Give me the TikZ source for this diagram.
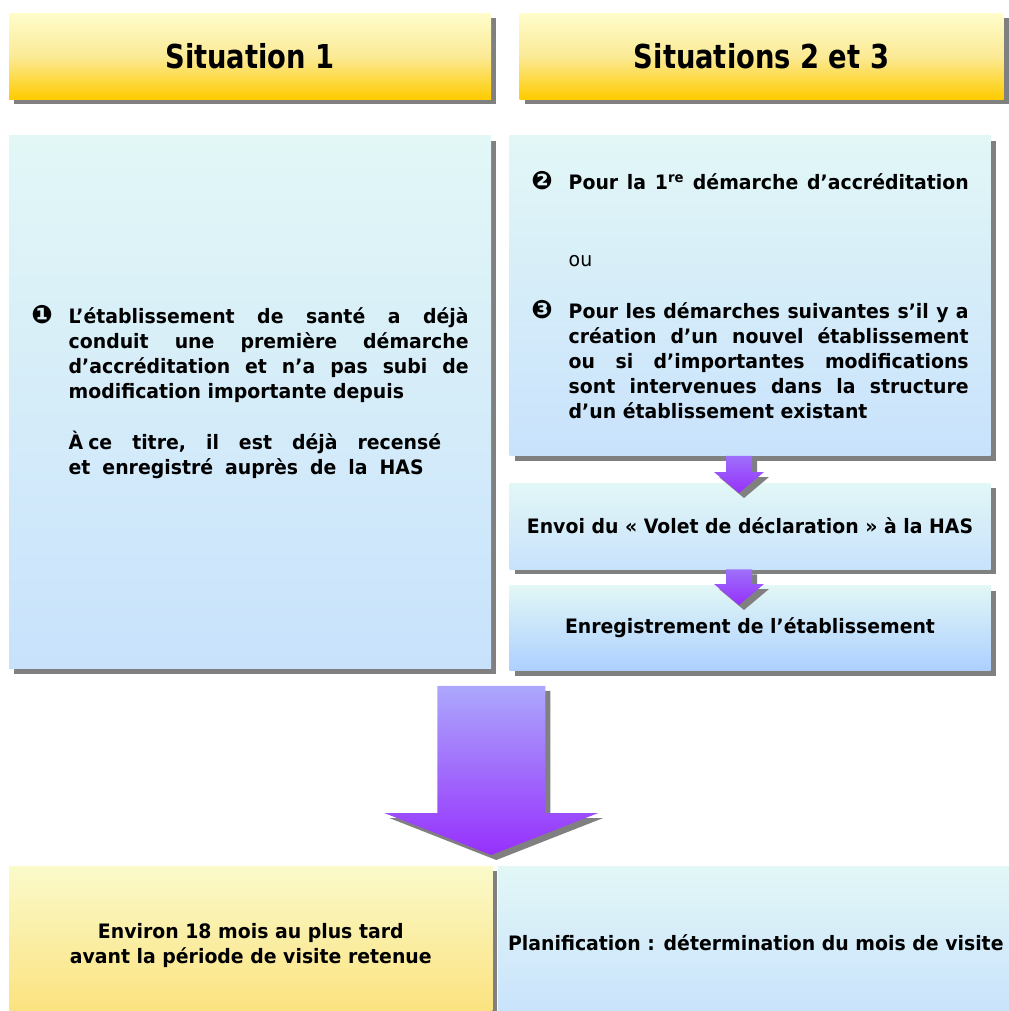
\documentclass[tikz,border=0pt]{standalone}
\usepackage{fontspec}
\setmainfont{DejaVu Sans}[FakeStretch=0.95]
\newfontfamily\headfont{DejaVu Sans}[FakeStretch=0.83]
\newfontfamily\dingfont{DejaVu Sans}
\usepackage{xcolor}
\usepackage{tikz}
\usetikzlibrary{positioning,calc,shadows}

\definecolor{headtop}{RGB}{255,253,204}
\definecolor{headmid}{RGB}{251,234,150}
\definecolor{headbot}{RGB}{255,204,0}
\definecolor{bluetop}{RGB}{226,247,246}
\definecolor{bluebot}{RGB}{200,226,252}
\definecolor{deepbot}{RGB}{172,207,255}
\definecolor{yeltop}{RGB}{250,250,202}
\definecolor{yelbot}{RGB}{251,224,120}
\definecolor{violtop}{RGB}{172,168,252}
\definecolor{violmid}{RGB}{158,112,250}
\definecolor{violbot}{RGB}{150,48,252}
\definecolor{ombre}{RGB}{128,128,128}

\hyphenpenalty=10000 \exhyphenpenalty=10000 \tolerance=10000
\setlength{\parindent}{0pt}

\newcommand{\puce}[1]{\hangindent=28pt\hangafter=1\makebox[28pt][l]{\dingfont\fontsize{19}{19}\selectfont #1}}
\newcommand{\retrait}{\hangindent=28pt\hangafter=0 }

\tikzset{
 ombree/.style={drop shadow={shadow xshift=3.75pt,shadow yshift=-3.75pt,fill=ombre,opacity=1}},
 entete/.style={ombree,top color=headtop,bottom color=headbot,middle color=headmid,
  minimum width=361.5pt,minimum height=64.5pt,inner sep=0pt,
  font=\headfont\bfseries\fontsize{24.7}{28}\selectfont},
 cadre/.style={ombree,top color=bluetop,bottom color=bluebot,minimum width=360.75pt,
  inner sep=0pt,font=\bfseries\fontsize{14.9}{18.75}\selectfont},
 fleche/.style n args={3}{ombree,top color=violmid,bottom color=violbot,
  to path={let \p1=(\tikztostart), \p2=(\tikztotarget) in
   (\x1-#1,\y1) -- (\x1-#1,\y2+#3) -- (\x1-#2,\y2+#3) -- (\x1,\y2)
   -- (\x1+#2,\y2+#3) -- (\x1+#1,\y2+#3) -- (\x1+#1,\y1) -- cycle}}
}

\begin{document}
\begin{tikzpicture}[x=0.75pt,y=-0.75pt]
 \useasboundingbox (0,0) rectangle (1009,1011);

 % en-tetes
 \node[entete] (sit1h) at (250,56) {Situation 1};
 \node[entete,minimum width=363pt,right=21pt of sit1h] (sit23h) {Situations 2 et 3};

 % colonne de gauche
 \node[cadre,minimum width=361.5pt,minimum height=399.75pt,text width=328pt,align=justify,
  below=27pt of sit1h] (sit1) {%
  \puce{❶}L’établissement de santé a déjà\linebreak conduit une première démarche\linebreak
  d’accréditation et n’a pas subi de\linebreak modification importante depuis\par
  \vspace{19.5pt}
  \retrait{\spaceskip=15pt À\hspace{3.75pt}ce titre, il est déjà recensé}\\
  {\spaceskip=9pt et enregistré auprès de la HAS}\par
  \hbox{}};

 % colonne de droite
 \node[cadre,minimum height=240pt,text width=328pt,align=justify,anchor=north west]
  (decl) at ([xshift=13.5pt]sit1.north east) {%
  \puce{❷}{\parfillskip=0pt Pour la 1\textsuperscript{re} démarche d’accréditation\par}
  \vspace{39pt}
  \retrait{\mdseries ou}\par
  \vspace{20.25pt}
  \puce{❸}Pour les démarches suivantes s’il y a\linebreak création d’un nouvel établissement\linebreak
  ou si d’importantes modifications\linebreak sont intervenues dans la structure\linebreak
  d’un établissement existant\par};
 \node[cadre,minimum height=64.5pt,below=20.25pt of decl] (envoi)
  {Envoi du «~Volet de déclaration~» à la HAS};
 \node[cadre,minimum height=63.75pt,bottom color=deepbot,below=12pt of envoi] (enreg)
  {Enregistrement de l’établissement};

 % bas
 \node[cadre,top color=yeltop,bottom color=yelbot,minimum width=362.25pt,minimum height=119.25pt,
  align=center,anchor=north west] (delai) at (9,866)
  {Environ 18 mois au plus tard\\avant la période de visite retenue};
 \node[cadre,minimum width=387pt,minimum height=114pt,anchor=north west] (plan)
  at ([xshift=3.75pt]delai.north east) {Planification : détermination du mois de visite};

 % fleches
 \coordinate (pointe1) at (739,493);
 \coordinate (pointe2) at (739,605);
 \coordinate[below=12.75pt of sit1.south east] (depart);
 \coordinate[above=8.25pt of delai.north east] (pointe3);
 \path[fleche={9.75pt}{18.75pt}{15.75pt}] (decl.south -| pointe1) to (pointe1);
 \path[fleche={9.75pt}{18.75pt}{15.75pt}] (envoi.south -| pointe2) to (pointe2);
 \path[fleche={40.5pt}{80.25pt}{31.5pt},top color=violtop] (depart) to (pointe3);
\end{tikzpicture}
\end{document}
